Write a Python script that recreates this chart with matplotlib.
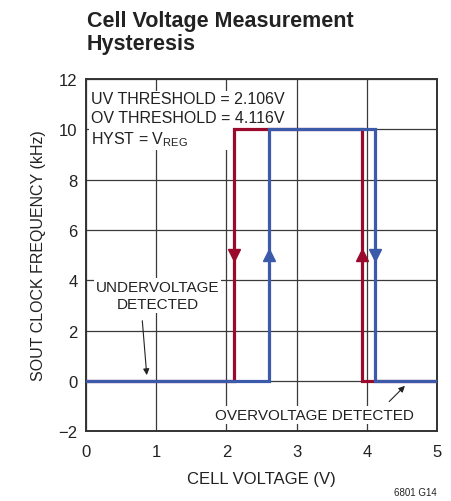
import matplotlib
matplotlib.use("Agg")
import matplotlib.pyplot as plt
import matplotlib.font_manager as fm

# ── Font: condensed sans if available ─────────────────────────────────────────
_names = {f.name for f in fm.fontManager.ttflist}
FONT = "Liberation Sans Narrow" if "Liberation Sans Narrow" in _names else "Liberation Sans"
plt.rcParams["font.family"] = [FONT, "DejaVu Sans"]

# ── Data ──────────────────────────────────────────────────────────────────────
UV_THRESHOLD = 2.106
OV_THRESHOLD = 4.116
UV_RECOVER = 2.6
OV_RECOVER = 3.93

red_x = [0, UV_THRESHOLD, UV_THRESHOLD, OV_RECOVER, OV_RECOVER, 5]
red_y = [0, 0, 10, 10, 0, 0]
blue_x = [0, UV_RECOVER, UV_RECOVER, OV_THRESHOLD, OV_THRESHOLD, 5]
blue_y = [0, 0, 10, 10, 0, 0]

# arrow markers: (x, y, direction)
red_arrows = [(UV_THRESHOLD, 5, "v"), (OV_RECOVER, 5, "^")]
blue_arrows = [(UV_RECOVER, 5, "^"), (OV_THRESHOLD, 5, "v")]

x_ticks = [0, 1, 2, 3, 4, 5]
y_ticks = [-2, 0, 2, 4, 6, 8, 10, 12]
y_ticklabels = ["\u22122", "0", "2", "4", "6", "8", "10", "12"]

RED = "#9A0A2C"
BLUE = "#3B5BAA"
GRID = "#3a3a3a"
INK = "#222222"

fig = plt.figure(figsize=(4.52, 5.02), dpi=100)
ax = fig.add_axes([0.190, 0.139, 0.777, 0.702])

ax.set_xlim(0, 5)
ax.set_ylim(-2, 12)
ax.set_xticks(x_ticks)
ax.set_yticks(y_ticks)
ax.set_yticklabels(y_ticklabels)
ax.tick_params(length=0, labelsize=12, colors=INK)
ax.tick_params(axis="x", pad=9)
ax.tick_params(axis="y", pad=6)
ax.grid(True, color=GRID, linewidth=0.9)
ax.set_axisbelow(True)
for s in ax.spines.values():
    s.set_linewidth(1.4)
    s.set_color("#333333")

ax.plot(red_x, red_y, color=RED, linewidth=2.3, solid_joinstyle="miter", zorder=3)
ax.plot(blue_x, blue_y, color=BLUE, linewidth=2.3, solid_joinstyle="miter", zorder=4)
for x, y, m in red_arrows:
    ax.plot(x, y, marker=m, color=RED, markersize=8, zorder=5, linestyle="none")
for x, y, m in blue_arrows:
    ax.plot(x, y, marker=m, color=BLUE, markersize=8, zorder=5, linestyle="none")

white = dict(facecolor="white", edgecolor="none", pad=1.5)

ax.text(0.08, 11.5,
        "UV THRESHOLD = 2.106V\nOV THRESHOLD = 4.116V\nHYST = V$_{\\mathregular{REG}}$",
        fontsize=11.5, va="top", ha="left", linespacing=1.3, zorder=2,
        color=INK, bbox=white)

ax.text(1.02, 3.4, "UNDERVOLTAGE\nDETECTED", fontsize=11, ha="center", va="center",
        linespacing=1.3, zorder=2, color=INK, bbox=white)
ax.annotate("", xy=(0.87, 0.12), xytext=(0.80, 2.5),
            arrowprops=dict(arrowstyle="-|>", color=INK, lw=0.8,
                            mutation_scale=9), zorder=6)

ax.text(3.25, -1.35, "OVERVOLTAGE DETECTED", fontsize=11, ha="center", va="center",
        zorder=2, color=INK, bbox=white)
ax.annotate("", xy=(4.57, -0.12), xytext=(4.29, -0.9),
            arrowprops=dict(arrowstyle="-|>", color=INK, lw=0.8,
                            mutation_scale=9), zorder=6)

ax.set_xlabel("CELL VOLTAGE (V)", fontsize=12, labelpad=9, color=INK)
ax.set_ylabel("SOUT CLOCK FREQUENCY (kHz)", fontsize=11.5, labelpad=9, color=INK)

fig.text(0.192, 0.978, "Cell Voltage Measurement\nHysteresis", fontsize=15.5,
         fontweight="bold", ha="left", va="top", linespacing=1.15, color=INK)
fig.text(0.967, 0.008, "6801 G14", fontsize=7, ha="right", va="bottom", color=INK)

fig.savefig("out.png", dpi=100)
